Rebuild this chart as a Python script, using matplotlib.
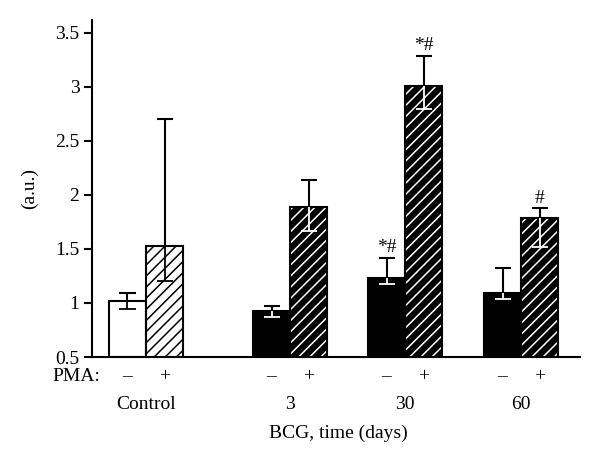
import matplotlib
matplotlib.use("Agg")
import matplotlib.pyplot as plt
from matplotlib.transforms import blended_transform_factory

# Data
groups = ["Control", "3", "30", "60"]
minus_vals = [1.02, 0.93, 1.23, 1.09]
minus_lo = [0.94, 0.87, 1.18, 1.04]
minus_hi = [1.09, 0.97, 1.42, 1.32]
plus_vals = [1.53, 1.89, 3.01, 1.79]
plus_lo = [1.20, 1.67, 2.80, 1.52]
plus_hi = [2.70, 2.14, 3.29, 1.88]
minus_marks = ["", "", "*#", ""]
plus_marks = ["", "", "*#", "#"]
yticks = [0.5, 1, 1.5, 2, 2.5, 3, 3.5]
ytick_labels = ["0.5", "1", "1.5", "2", "2.5", "3", "3.5"]

# Layout (x in pixel-like units of the reference)
group_x = [146, 290, 405, 521]
width = 37
fs = 14

plt.rcParams["font.family"] = ["Liberation Serif", "DejaVu Serif"]
plt.rcParams["hatch.linewidth"] = 1.1

fig = plt.figure(figsize=(6, 4.67), dpi=100)
ax = fig.add_axes([92 / 600, 110 / 467, 488 / 600, 337 / 467])
ax.set_xlim(92, 580)
ax.set_ylim(0.5, 3.62)


def draw_bar(x, val, lo, hi, fill, hatch, inner):
    # hatch drawn with edgecolor, outline drawn separately in black
    if hatch:
        ax.bar(x, val - 0.5, width, bottom=0.5, color=fill,
               edgecolor=inner, hatch=hatch, linewidth=0, zorder=2)
    else:
        ax.bar(x, val - 0.5, width, bottom=0.5, color=fill,
               linewidth=0, zorder=2)
    ax.bar(x, val - 0.5, width, bottom=0.5, fill=False,
           edgecolor="black", linewidth=1.5, zorder=3)
    cap = 8
    # upper error part in black
    ax.vlines(x, val, hi, color="black", linewidth=1.5, zorder=4)
    ax.hlines(hi, x - cap, x + cap, color="black", linewidth=1.5, zorder=4)
    # lower error part inside the bar
    ax.vlines(x, lo, val, color=inner, linewidth=1.3, zorder=4)
    ax.hlines(lo, x - cap, x + cap, color=inner, linewidth=1.3, zorder=4)


for i, gx in enumerate(group_x):
    xm = gx - width / 2
    xp = gx + width / 2
    if i == 0:
        draw_bar(xm, minus_vals[i], minus_lo[i], minus_hi[i],
                 "white", None, "black")
        draw_bar(xp, plus_vals[i], plus_lo[i], plus_hi[i],
                 "white", "///", "black")
    else:
        draw_bar(xm, minus_vals[i], minus_lo[i], minus_hi[i],
                 "black", None, "white")
        draw_bar(xp, plus_vals[i], plus_lo[i], plus_hi[i],
                 "black", "///", "white")
    if minus_marks[i]:
        ax.annotate(minus_marks[i], (xm, minus_hi[i]), xytext=(0, 1),
                    textcoords="offset points", ha="center", va="bottom",
                    fontsize=fs)
    if plus_marks[i]:
        ax.annotate(plus_marks[i], (xp, plus_hi[i]), xytext=(0, 1),
                    textcoords="offset points", ha="center", va="bottom",
                    fontsize=fs)

# Axes styling
ax.spines["top"].set_visible(False)
ax.spines["right"].set_visible(False)
ax.spines["left"].set_linewidth(1.5)
ax.spines["bottom"].set_linewidth(1.5)
ax.set_xticks([])
ax.set_yticks(yticks)
ax.set_yticklabels(ytick_labels, fontsize=fs)
ax.tick_params(axis="y", direction="out", length=6, width=1.5, pad=3)
ax.set_ylabel("(a.u.)", fontsize=fs, labelpad=12)

# Labels below the axis
tr = blended_transform_factory(ax.transData, ax.transAxes)
row_pma = -0.058
ax.text(100, row_pma, "PMA:", transform=tr, ha="right", va="center",
        fontsize=fs)
for i, gx in enumerate(group_x):
    ax.text(gx - width / 2, row_pma, "\u2013", transform=tr, ha="center",
            va="center", fontsize=fs)
    ax.text(gx + width / 2, row_pma, "+", transform=tr, ha="center",
            va="center", fontsize=fs)
    ax.text(gx, -0.14, groups[i], transform=tr, ha="center", va="center",
            fontsize=fs)
ax.text(338, -0.228, "BCG, time (days)", transform=tr, ha="center",
        va="center", fontsize=fs)

fig.savefig("out.png", dpi=100)
